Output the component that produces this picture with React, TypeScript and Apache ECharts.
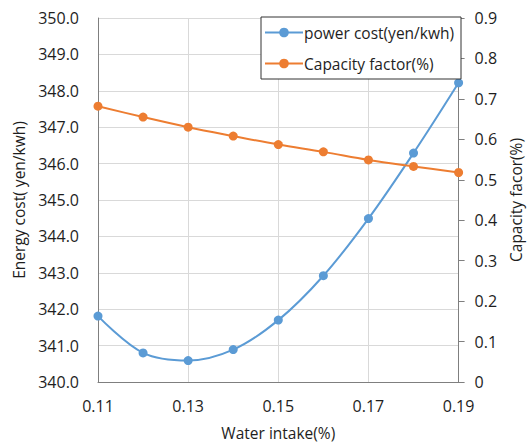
import React, { useEffect, useRef } from "react";
import * as echarts from "echarts";

const waterIntake = ["0.11", "0.12", "0.13", "0.14", "0.15", "0.16", "0.17", "0.18", "0.19"];
const powerCost = [341.81, 340.8, 340.59, 340.89, 341.7, 342.92, 344.49, 346.29, 348.22];
const capacityFactor = [0.682, 0.655, 0.63, 0.608, 0.587, 0.569, 0.549, 0.533, 0.518];

const FONT = "'Open Sans', 'Noto Sans', sans-serif";
const TEXT = "#1e1e1e";

export default function App() {
  const ref = useRef<HTMLDivElement>(null);
  useEffect(() => {
    if (!ref.current) return;
    const chart = echarts.init(ref.current, undefined, { renderer: "svg" });
    chart.setOption({
      animation: false,
      backgroundColor: "#ffffff",
      textStyle: { fontFamily: FONT, color: TEXT },
      grid: { left: 98, right: 66, top: 18, bottom: 59, containLabel: false },
      legend: {
        orient: "vertical",
        left: 261,
        top: 17,
        borderColor: "#333333",
        borderWidth: 1,
        borderRadius: 0,
        backgroundColor: "#ffffff",
        padding: [6, 7, 6, 3],
        itemWidth: 38,
        itemHeight: 12,
        itemGap: 12,
        textStyle: {
          fontFamily: FONT,
          fontSize: 15.5,
          lineHeight: 19,
          color: TEXT,
          padding: [0, 0, 0, -4],
        },
        data: ["power cost(yen/kwh)", "Capacity factor(%)"],
      },
      xAxis: {
        type: "category",
        data: waterIntake,
        boundaryGap: false,
        name: "Water intake(%)",
        nameLocation: "middle",
        nameGap: 43,
        nameTextStyle: { fontFamily: FONT, fontSize: 15.5, color: TEXT },
        axisLine: { lineStyle: { color: "#7f7f7f", width: 1 } },
        axisTick: { show: false },
        axisLabel: { interval: 1, fontSize: 16, color: TEXT, margin: 16, fontFamily: FONT },
        splitLine: { show: true, interval: 1, lineStyle: { color: "#d9d9d9", width: 1 } },
      },
      yAxis: [
        {
          type: "value",
          min: 340,
          max: 350,
          interval: 1,
          name: "Energy cost( yen/kwh)",
          nameLocation: "middle",
          nameGap: 67,
          nameTextStyle: { fontFamily: FONT, fontSize: 15.5, color: TEXT },
          axisLine: { show: true, lineStyle: { color: "#7f7f7f", width: 1 } },
          axisTick: { show: false },
          axisLabel: {
            fontSize: 16,
            color: TEXT,
            margin: 19,
            fontFamily: FONT,
            formatter: (v: number) => v.toFixed(1),
          },
          splitLine: { show: true, lineStyle: { color: "#d9d9d9", width: 1 } },
        },
        {
          type: "value",
          min: 0,
          max: 0.9,
          interval: 0.1,
          position: "right",
          name: "Capacity facor(%)",
          nameLocation: "middle",
          nameGap: 46,
          nameTextStyle: { fontFamily: FONT, fontSize: 15.5, color: TEXT },
          axisLine: { show: true, lineStyle: { color: "#7f7f7f", width: 1 } },
          axisTick: { show: true, length: 6, lineStyle: { color: "#7f7f7f" } },
          axisLabel: {
            fontSize: 16,
            color: TEXT,
            margin: 16,
            fontFamily: FONT,
            formatter: (v: number) => (Math.abs(v) < 1e-9 ? "0" : v.toFixed(1)),
          },
          splitLine: { show: false },
        },
      ],
      series: [
        {
          name: "power cost(yen/kwh)",
          type: "line",
          yAxisIndex: 0,
          data: powerCost,
          smooth: 0.35,
          symbol: "circle",
          symbolSize: 9,
          itemStyle: { color: "#5b9bd5" },
          lineStyle: { color: "#5b9bd5", width: 2 },
        },
        {
          name: "Capacity factor(%)",
          type: "line",
          yAxisIndex: 1,
          data: capacityFactor,
          smooth: 0.35,
          symbol: "circle",
          symbolSize: 9,
          itemStyle: { color: "#ed7d31" },
          lineStyle: { color: "#ed7d31", width: 2 },
        },
      ],
    });
    return () => chart.dispose();
  }, []);
  return (
    <div
      ref={ref}
      style={{ position: "fixed", left: 0, top: 0, width: 532, height: 446, overflow: "hidden" }}
    />
  );
}
